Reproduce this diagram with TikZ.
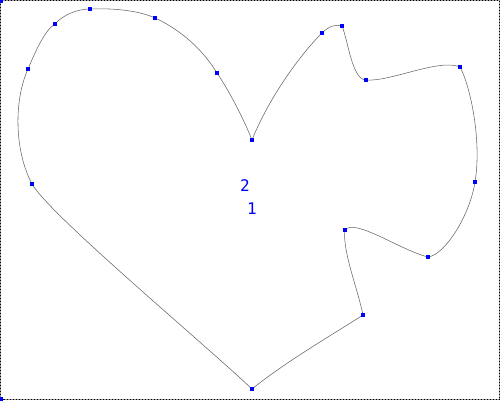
\documentclass[tikz,border=0pt]{standalone}
\usepackage{fontspec}
\newfontfamily\labfont{DejaVu Sans Mono}
\begin{document}
\begin{tikzpicture}[x=1pt,y=-1pt,
  ptbox/.style={rectangle,fill=blue,inner sep=0pt,minimum size=3.2pt},
  curveline/.style={draw=black!60,line width=0.55pt},
  lab/.style={text=blue,font=\labfont\fontsize{16}{16}\selectfont,inner sep=0pt}]
\useasboundingbox (0,0) rectangle (500,400);
% frame
\draw[gray!80,line width=1pt] (0.5,0.5) rectangle (499.5,399.5);
\draw[black,line width=1pt,dash pattern=on 1pt off 2pt] (0.5,0.5) rectangle (499.5,399.5);
% points
\coordinate (p1) at (252,140);
\coordinate (p2) at (217,73);
\coordinate (p3) at (155,18);
\coordinate (p4) at (90,9);
\coordinate (p5) at (55,24);
\coordinate (p6) at (28,69);
\coordinate (p7) at (32,184);
\coordinate (p8) at (252,389);
\coordinate (p9) at (363,315);
\coordinate (p10) at (345,230);
\coordinate (p11) at (428,257);
\coordinate (p12) at (475,182);
\coordinate (p13) at (460,67);
\coordinate (p14) at (366,80);
\coordinate (p15) at (342,26);
\coordinate (p16) at (322,33);
% curve
\draw[curveline] (p1)
  .. controls (268,100) and (298,57) .. (p16)
  .. controls (329,26) and (336,24) .. (p15)
  .. controls (348,40) and (352,80) .. (p14)
  .. controls (390,82) and (440,58) .. (p13)
  .. controls (470,85) and (482,140) .. (p12)
  .. controls (470,215) and (445,255) .. (p11)
  .. controls (400,250) and (355,218) .. (p10)
  .. controls (342,250) and (358,290) .. (p9)
  .. controls (340,330) and (285,362) .. (p8)
  .. controls (200,340) and (50,215) .. (p7)
  .. controls (14,150) and (14,100) .. (p6)
  .. controls (36,50) and (45,30) .. (p5)
  .. controls (63,15) and (77,9) .. (p4)
  .. controls (110,8) and (138,10) .. (p3)
  .. controls (175,27) and (200,45) .. (p2)
  .. controls (230,92) and (245,122) .. (p1);
% markers
\foreach \q in {p1,p2,p3,p4,p5,p6,p7,p8,p9,p10,p11,p12,p13,p14,p15,p16}
  \node[ptbox] at (\q) {};
\node[ptbox] (c1) at (1,1) {};
\node[ptbox] (c2) at (1,399) {};
% labels
\node[lab] (l2) at (245,186) {2};
\node[lab] (l1) at (252,209) {1};
\end{tikzpicture}
\end{document}
